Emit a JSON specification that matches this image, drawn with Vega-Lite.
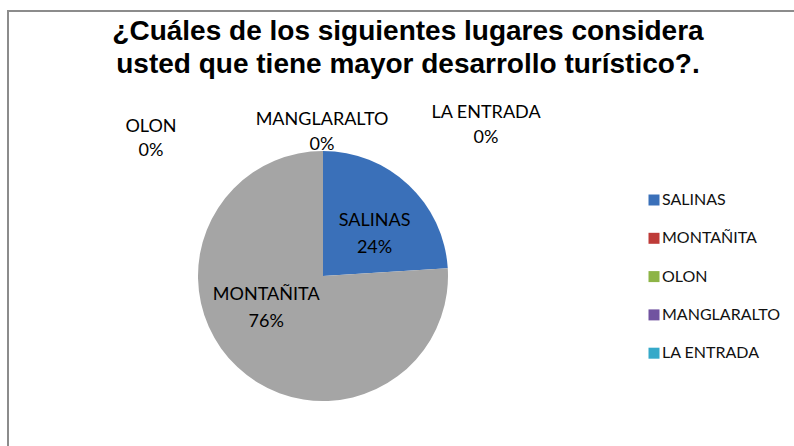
{
  "$schema": "https://vega.github.io/schema/vega-lite/v6.json",
  "width": 790,
  "height": 440,
  "autosize": {"type": "none"},
  "padding": {"left": 8, "top": 11, "right": 0, "bottom": 0},
  "background": "white",
  "view": {"stroke": "#8C8C8C", "strokeWidth": 2},
  "config": {
    "view": {"stroke": "#8C8C8C", "strokeWidth": 2},
    "text": {"font": "Lato", "fontSize": 18, "color": "#000000"}
  },
  "title": {
    "text": ["¿Cuáles de los siguientes lugares considera", "usted que tiene mayor desarrollo turístico?."],
    "font": "Liberation Sans",
    "fontSize": 28,
    "fontWeight": "bold",
    "color": "#000000",
    "anchor": "middle",
    "offset": -68,
    "lineHeight": 33,
    "dx": 5
  },
  "data": {
    "values": [
      {"lugar": "SALINAS", "valor": 24, "orden": 1},
      {"lugar": "MONTAÑITA", "valor": 76, "orden": 2},
      {"lugar": "OLON", "valor": 0, "orden": 3},
      {"lugar": "MANGLARALTO", "valor": 0, "orden": 4},
      {"lugar": "LA ENTRADA", "valor": 0, "orden": 5}
    ]
  },
  "transform": [
    {"calculate": "[datum.lugar, datum.valor + '%']", "as": "etiqueta"}
  ],
  "layer": [
    {
      "mark": {"type": "arc", "x": 315, "y": 265, "outerRadius": 125, "stroke": null},
      "encoding": {
        "theta": {"field": "valor", "type": "quantitative", "stack": true, "scale": {"domain": [0, 100]}},
        "order": {"field": "orden", "type": "quantitative"},
        "color": {
          "field": "lugar",
          "type": "nominal",
          "condition": {"test": "datum.lugar === 'MONTAÑITA'", "value": "#A5A5A5"},
          "scale": {
            "domain": ["SALINAS", "MONTAÑITA", "OLON", "MANGLARALTO", "LA ENTRADA"],
            "range": ["#3A70B9", "#BE3B38", "#8DB446", "#7153A0", "#35A9C9"]
          },
          "legend": {
            "title": null,
            "orient": "none",
            "legendX": 638,
            "legendY": 181,
            "padding": 0,
            "symbolType": "square",
            "symbolSize": 121,
            "symbolStrokeWidth": 0,
            "symbolOffset": 0,
            "labelFont": "Lato",
            "labelFontSize": 16,
            "labelColor": "#111111",
            "labelOffset": 0,
            "rowPadding": 22.3
          }
        }
      }
    },
    {
      "mark": {"type": "text", "x": 315, "y": 265, "radius": 68, "dx": 5, "dy": -5, "lineHeight": 27, "baseline": "middle"},
      "encoding": {
        "theta": {"field": "valor", "type": "quantitative", "stack": true},
        "order": {"field": "orden", "type": "quantitative"},
        "detail": {"field": "lugar"},
        "text": {"condition": {"test": "datum.lugar === 'SALINAS'", "field": "etiqueta"}, "value": ""}
      }
    },
    {
      "mark": {"type": "text", "x": 315, "y": 265, "radius": 64, "dx": -13, "dy": -28, "lineHeight": 27, "baseline": "middle"},
      "encoding": {
        "theta": {"field": "valor", "type": "quantitative", "stack": true},
        "order": {"field": "orden", "type": "quantitative"},
        "detail": {"field": "lugar"},
        "text": {"condition": {"test": "datum.lugar === 'MONTAÑITA'", "field": "etiqueta"}, "value": ""}
      }
    },
    {
      "mark": {"type": "text", "x": 315, "y": 265, "radius": 146, "dx": -172, "dy": -3, "lineHeight": 24, "baseline": "middle"},
      "encoding": {
        "theta": {"field": "valor", "type": "quantitative", "stack": true},
        "order": {"field": "orden", "type": "quantitative"},
        "detail": {"field": "lugar"},
        "text": {"condition": {"test": "datum.lugar === 'OLON'", "field": "etiqueta"}, "value": ""}
      }
    },
    {
      "mark": {"type": "text", "x": 315, "y": 265, "radius": 146, "dx": -1, "dy": -10, "lineHeight": 25, "baseline": "middle"},
      "encoding": {
        "theta": {"field": "valor", "type": "quantitative", "stack": true},
        "order": {"field": "orden", "type": "quantitative"},
        "detail": {"field": "lugar"},
        "text": {"condition": {"test": "datum.lugar === 'MANGLARALTO'", "field": "etiqueta"}, "value": ""}
      }
    },
    {
      "mark": {"type": "text", "x": 315, "y": 265, "radius": 146, "dx": 163, "dy": -17, "lineHeight": 25, "baseline": "middle"},
      "encoding": {
        "theta": {"field": "valor", "type": "quantitative", "stack": true},
        "order": {"field": "orden", "type": "quantitative"},
        "detail": {"field": "lugar"},
        "text": {"condition": {"test": "datum.lugar === 'LA ENTRADA'", "field": "etiqueta"}, "value": ""}
      }
    }
  ]
}
